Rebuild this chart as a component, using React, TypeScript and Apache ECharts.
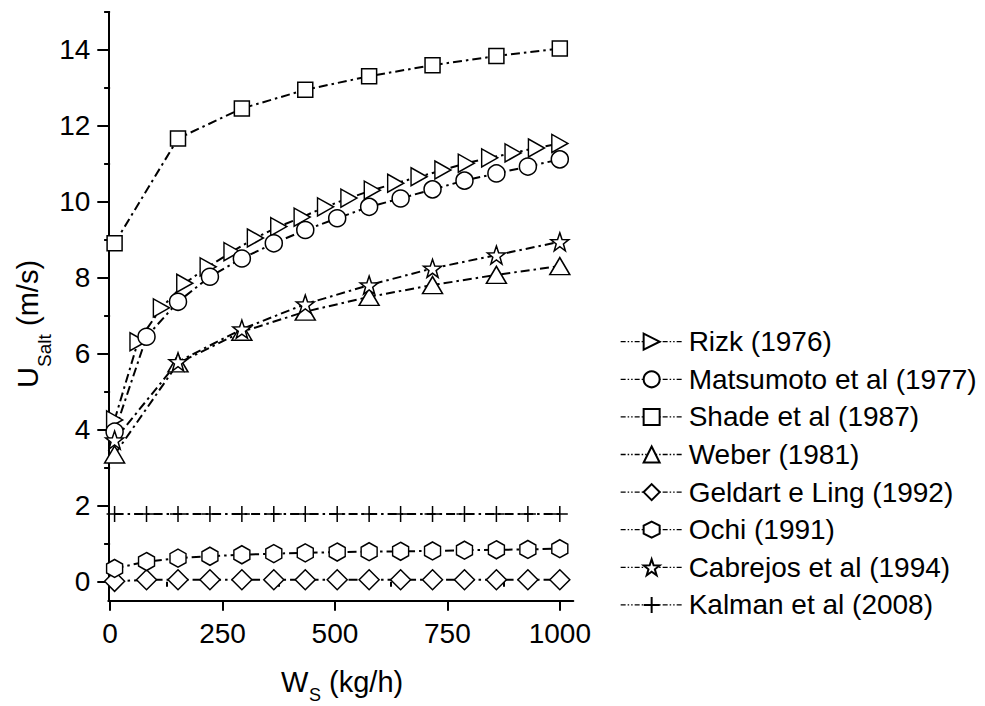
import React, { useEffect, useRef } from "react";
import * as echarts from "echarts";

const xGrid15 = [10, 81, 151, 222, 293, 364, 434, 505, 576, 646, 717, 788, 859, 929, 1000];
const xGrid8 = [10, 151, 293, 434, 576, 717, 859, 1000];
const xRizk = [10, 62, 114, 166, 218, 271, 323, 375, 427, 479, 531, 583, 635, 687, 740, 792, 844, 896, 948, 1000];

const rizk = [4.26, 6.32, 7.21, 7.86, 8.29, 8.69, 9.05, 9.35, 9.6, 9.87, 10.1, 10.31, 10.49, 10.66, 10.84, 11.02, 11.16, 11.29, 11.42, 11.54];
const matsumoto = [3.95, 6.45, 7.37, 8.03, 8.51, 8.91, 9.26, 9.57, 9.87, 10.09, 10.33, 10.56, 10.75, 10.93, 11.12];
const shade = [8.91, 11.67, 12.46, 12.95, 13.31, 13.6, 13.84, 14.04];
const weber = [3.35, 5.75, 6.58, 7.11, 7.5, 7.81, 8.08, 8.31];
const geldart = [0.01, 0.05, 0.05, 0.05, 0.05, 0.05, 0.05, 0.05, 0.05, 0.05, 0.05, 0.05, 0.05, 0.05, 0.05];
const ochi = [0.35, 0.53, 0.62, 0.67, 0.71, 0.74, 0.76, 0.78, 0.79, 0.8, 0.81, 0.83, 0.84, 0.85, 0.87];
const cabrejos = [3.73, 5.79, 6.65, 7.31, 7.81, 8.25, 8.6, 8.95];
const kalman = [1.78, 1.78, 1.78, 1.78, 1.78, 1.78, 1.78, 1.78, 1.78, 1.78, 1.78, 1.78, 1.78, 1.78, 1.78];

const xMajorTicks = [0, 250, 500, 750, 1000];
const xMinorTicks = [125, 375, 625, 875];
const yMajorTicks = [0, 2, 4, 6, 8, 10, 12, 14];
const yMinorTicks = [1, 3, 5, 7, 9, 11, 13, 15];

const FONT = "'Liberation Sans', Arial, sans-serif";

const SYM_RIGHT_TRI = "path://M0,0L10,5L0,10Z";
const SYM_HEX = "path://M5,0L9.33,2.5L9.33,7.5L5,10L0.67,7.5L0.67,2.5Z";
const SYM_STAR = "path://M10,0L12.35,6.76L19.51,6.91L13.8,11.24L15.88,18.09L10,14L4.12,18.09L6.2,11.24L0.49,6.91L7.65,6.76Z";
const SYM_PLUS = "path://M0,5L10,5M5,0L5,10";

function pairs(xs: number[], ys: number[]) {
  return ys.map((y, i) => [xs[i], y]);
}

export default function App() {
  const ref = useRef<HTMLDivElement>(null);
  useEffect(() => {
    if (!ref.current) return;
    const chart = echarts.init(ref.current, undefined, { renderer: "svg" });
    const lineStyle = { color: "#000", width: 2, type: [9, 4, 2.5, 4] as any };
    const itemStyle = { color: "#fff", borderColor: "#000", borderWidth: 1.5 };
    const mk = (name: string, xs: number[], ys: number[], symbol: string, size: any) => ({
      name,
      type: "line",
      xAxisIndex: 0,
      yAxisIndex: 0,
      data: pairs(xs, ys),
      symbol,
      symbolSize: size,
      showAllSymbol: true,
      lineStyle,
      itemStyle,
      emphasis: { disabled: true },
    });
    const axisLineStyle = { color: "#000", width: 2 };
    const fmt = (v: number) => String(v);
    chart.setOption({
      animation: false,
      grid: { left: 108.3, right: 411.7, top: 12, bottom: 105.3 },
      xAxis: [
        {
          type: "value",
          min: -4,
          max: 1030,
          axisLine: { show: true, onZero: false, lineStyle: axisLineStyle },
          axisTick: { show: true, customValues: xMajorTicks, length: 10, lineStyle: { color: "#000", width: 2 } },
          axisLabel: { show: true, customValues: xMajorTicks, formatter: fmt, fontSize: 28, color: "#000", fontFamily: FONT, margin: 19 },
          splitLine: { show: false },
        },
        {
          type: "value",
          min: -4,
          max: 1030,
          position: "bottom",
          axisLine: { show: false },
          axisTick: { show: true, customValues: xMinorTicks, length: 5, lineStyle: { color: "#000", width: 2 } },
          axisLabel: { show: false },
          splitLine: { show: false },
        },
      ],
      yAxis: [
        {
          type: "value",
          min: -0.5,
          max: 15,
          axisLine: { show: true, onZero: false, lineStyle: axisLineStyle },
          axisTick: { show: true, customValues: yMajorTicks, length: 11, lineStyle: { color: "#000", width: 2 } },
          axisLabel: { show: true, customValues: yMajorTicks, formatter: fmt, fontSize: 28, color: "#000", fontFamily: FONT, margin: 18 },
          splitLine: { show: false },
        },
        {
          type: "value",
          min: -0.5,
          max: 15,
          position: "left",
          axisLine: { show: false },
          axisTick: { show: true, customValues: yMinorTicks, length: 6, lineStyle: { color: "#000", width: 2 } },
          axisLabel: { show: false },
          splitLine: { show: false },
        },
      ],
      legend: {
        orient: "vertical",
        left: 615,
        top: 322.7,
        itemWidth: 62,
        itemHeight: 20,
        itemGap: 9.6,
        lineStyle: { width: 1.3, type: [5, 2, 1.5, 2, 1.5, 2] },
        textStyle: { fontSize: 28, color: "#000", fontFamily: FONT, lineHeight: 28, padding: [0, 0, 0, 1] },
        data: [
          "Rizk (1976)",
          "Matsumoto et al (1977)",
          "Shade et al (1987)",
          "Weber (1981)",
          "Geldart e Ling (1992)",
          "Ochi (1991)",
          "Cabrejos et al (1994)",
          "Kalman et al (2008)",
        ],
      },
      series: [
        mk("Rizk (1976)", xRizk, rizk, SYM_RIGHT_TRI, [16, 18]),
        mk("Matsumoto et al (1977)", xGrid15, matsumoto, "circle", 17),
        mk("Shade et al (1987)", xGrid8, shade, "rect", 15),
        mk("Weber (1981)", xGrid8, weber, "triangle", [20, 17]),
        mk("Geldart e Ling (1992)", xGrid15, geldart, "diamond", [20, 20]),
        mk("Ochi (1991)", xGrid15, ochi, SYM_HEX, [16, 18]),
        mk("Cabrejos et al (1994)", xGrid8, cabrejos, SYM_STAR, 18),
        mk("Kalman et al (2008)", xGrid15, kalman, SYM_PLUS, 16),
      ],
      graphic: [
        { type: "text", x: 281, y: 682, silent: true, style: { text: "W", fontSize: 29, fontFamily: FONT, fill: "#000", verticalAlign: "middle", align: "left" } },
        { type: "text", x: 309, y: 695, silent: true, style: { text: "S", fontSize: 18, fontFamily: FONT, fill: "#000", verticalAlign: "middle", align: "left" } },
        { type: "text", x: 321, y: 682, silent: true, style: { text: " (kg/h)", fontSize: 29, fontFamily: FONT, fill: "#000", verticalAlign: "middle", align: "left" } },
        {
          type: "group",
          x: 28,
          y: 388,
          rotation: Math.PI / 2,
          silent: true,
          children: [
            { type: "text", x: 0, y: 0, style: { text: "U", fontSize: 29, fontFamily: FONT, fill: "#000", verticalAlign: "middle", align: "left" } },
            { type: "text", x: 21, y: 16, style: { text: "Salt", fontSize: 19, fontFamily: FONT, fill: "#000", verticalAlign: "middle", align: "left" } },
            { type: "text", x: 54, y: 0, style: { text: " (m/s)", fontSize: 29, fontFamily: FONT, fill: "#000", verticalAlign: "middle", align: "left" } },
          ],
        },
      ],
    });
    return () => chart.dispose();
  }, []);
  return <div ref={ref} style={{ position: "absolute", left: 0, top: 0, width: 985, height: 706 }} />;
}
